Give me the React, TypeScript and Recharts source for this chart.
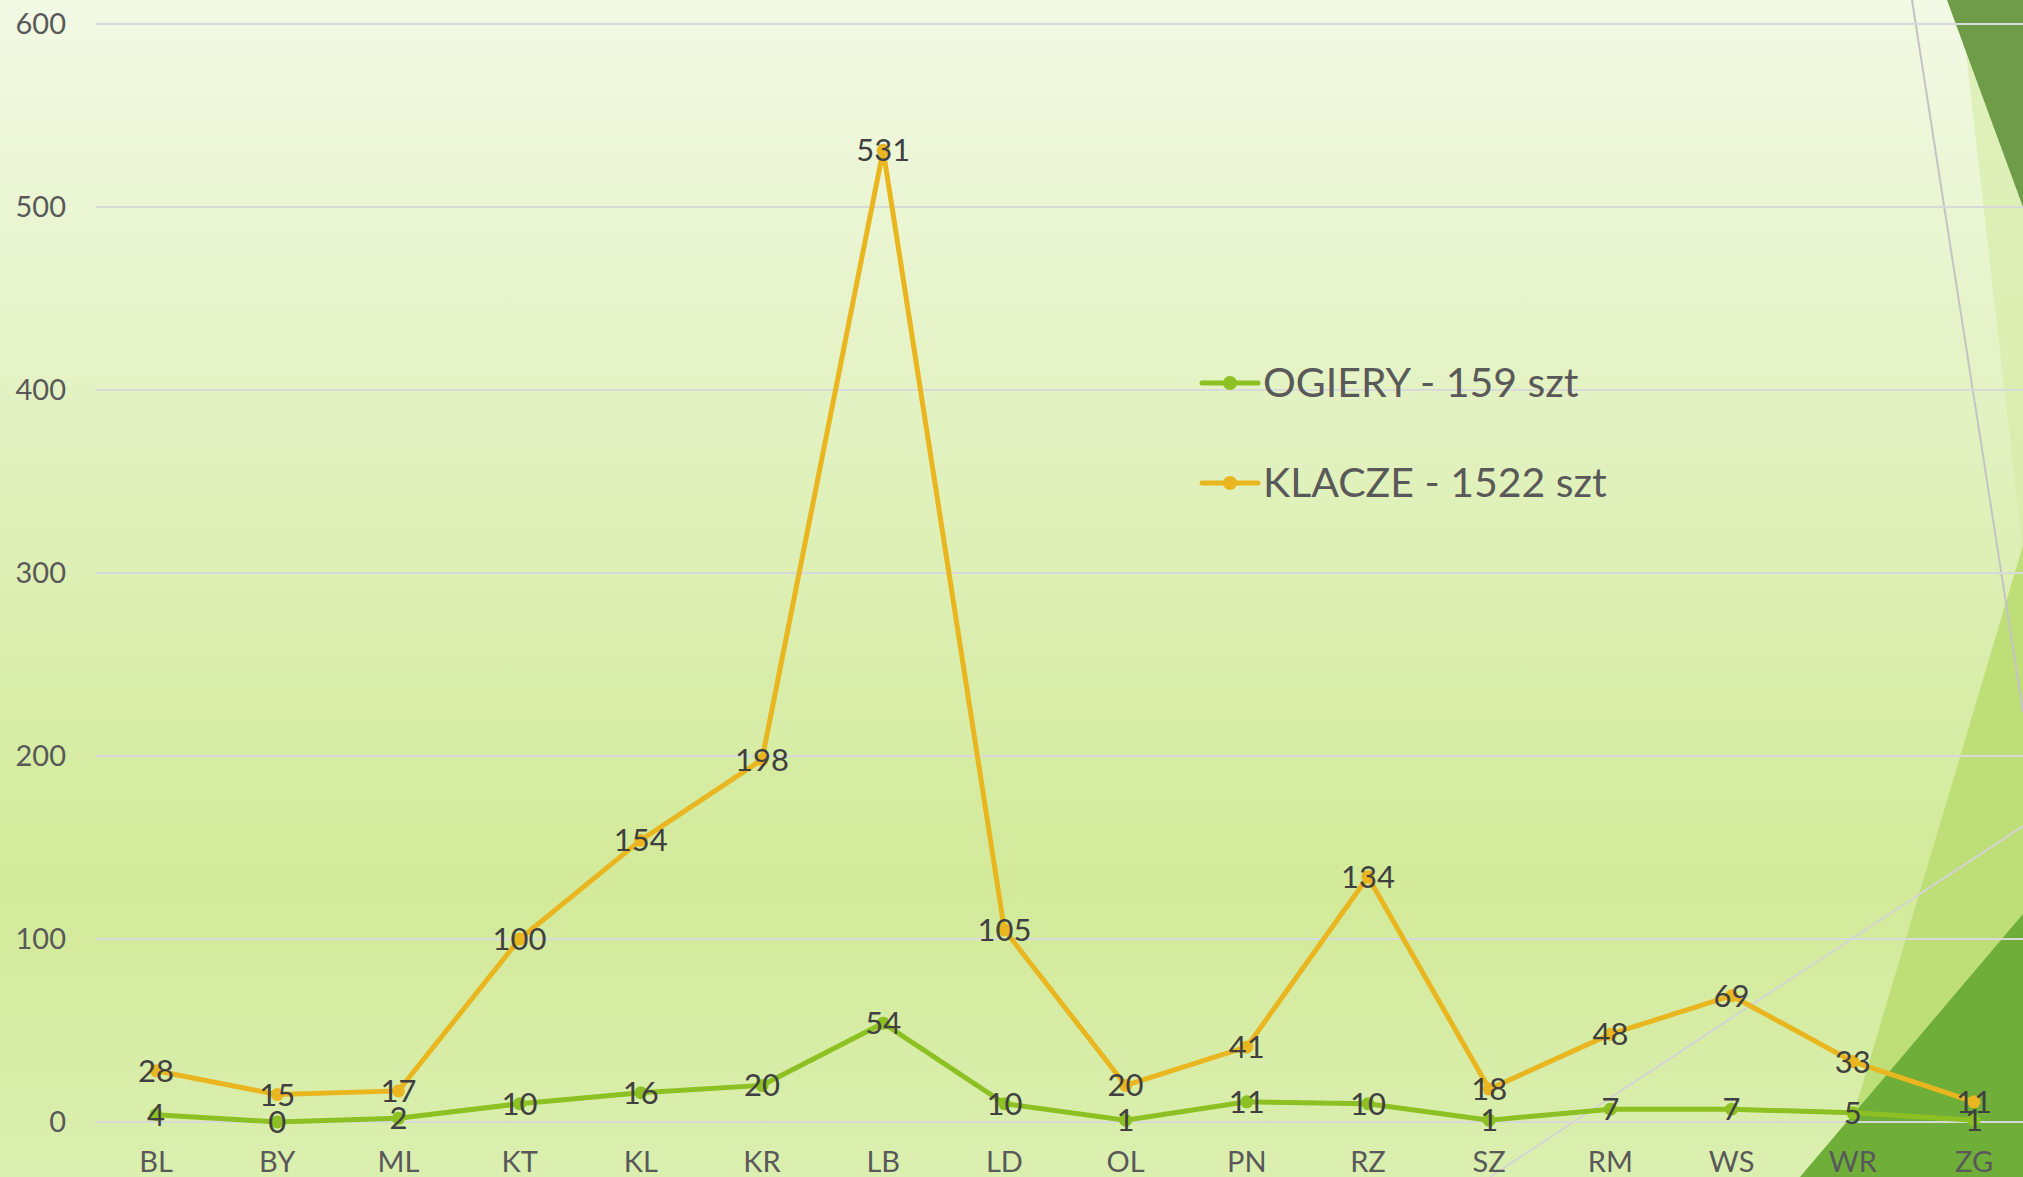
import React from 'react';
import { LineChart, Line, XAxis, YAxis, CartesianGrid, Legend, LabelList } from 'recharts';

const regions = ['BL', 'BY', 'ML', 'KT', 'KL', 'KR', 'LB', 'LD', 'OL', 'PN', 'RZ', 'SZ', 'RM', 'WS', 'WR', 'ZG'];
const ogiery = [4, 0, 2, 10, 16, 20, 54, 10, 1, 11, 10, 1, 7, 7, 5, 1];
const klacze = [28, 15, 17, 100, 154, 198, 531, 105, 20, 41, 134, 18, 48, 69, 33, 11];
const yTicks = [0, 100, 200, 300, 400, 500, 600];
const seriesOrder = ['ogiery', 'klacze'];

const FONT = 'Lato, "Open Sans", sans-serif';
const GREEN = '#8DC022';
const YELLOW = '#E9B620';

const data = regions.map((name, i) => ({
    name,
    ogiery: ogiery[i],
    klacze: klacze[i],
}));

const ValueLabel = (props: any) => {
    const { x, y, value } = props;
    return (
        <text x={x} y={y} dy={11} textAnchor="middle" fontSize={31} fontFamily={FONT} fill="#404040">
            {value}
        </text>
    );
};

const XTick = (props: any) => {
    const { x, y, payload } = props;
    return (
        <text x={x} y={y} dy={50} textAnchor="middle" fontSize={29} fontFamily={FONT} fill="#595959">
            {payload.value}
        </text>
    );
};

const LegendBox = (props: any) => {
    const items = [...(props.payload || [])].sort(
        (a: any, b: any) => seriesOrder.indexOf(a.dataKey) - seriesOrder.indexOf(b.dataKey)
    );
    return (
        <svg width={500} height={180} style={{ display: 'block' }}>
            {items.map((item: any, i: number) => {
                const cy = 33 + i * 100;
                return (
                    <g key={item.value}>
                        <line x1={7} y1={cy} x2={63} y2={cy} stroke={item.color} strokeWidth={5} strokeLinecap="round" />
                        <circle cx={35} cy={cy} r={7} fill={item.color} />
                        <text x={68} y={cy + 14} fontSize={41} fontFamily={FONT} fill="#595959">
                            {item.value}
                        </text>
                    </g>
                );
            })}
        </svg>
    );
};

const Background = () => (
    <svg width={2023} height={1177} style={{ position: 'absolute', left: 0, top: 0 }}>
        <defs>
            <linearGradient id="bg" x1="0" y1="0" x2="0" y2="1">
                <stop offset="0" stopColor="#F2F9E5" />
                <stop offset="0.75" stopColor="#D2EA99" />
                <stop offset="1" stopColor="#DBEFB0" />
            </linearGradient>
        </defs>
        <rect x={0} y={0} width={2023} height={1177} fill="url(#bg)" />
        <polygon points="1960,0 2023,0 2023,553" fill="#D5EBA4" opacity={0.6} />
        <polygon points="2023,545 2023,1177 1835,1177" fill="#BEDF78" />
        <polygon points="1947,0 2023,0 2023,207" fill="#6E9C48" />
        <polygon points="1800,1177 2023,914 2023,1177" fill="#6EAE39" />
        <line x1={1912} y1={0} x2={2023} y2={712} stroke="#C4C4C4" strokeWidth={2} />
        <line x1={1490} y1={1177} x2={2023} y2={826} stroke="#D4D4D4" strokeWidth={2} />
    </svg>
);

const App: React.FC = () => {
    return (
        <div style={{ position: 'absolute', left: 0, top: 0, width: 2023, height: 1177, overflow: 'hidden' }}>
            <Background />
            <div style={{ position: 'absolute', left: 0, top: 0 }}>
                <LineChart width={2060} height={1177} data={data} margin={{ top: 24, right: 26, bottom: 0, left: 0 }}>
                    <CartesianGrid vertical={false} stroke="#D9D9D9" strokeWidth={2} />
                    <XAxis
                        dataKey="name"
                        height={55}
                        axisLine={false}
                        tickLine={false}
                        tickSize={0}
                        tickMargin={0}
                        padding={{ left: 60, right: 60 }}
                        interval={0}
                        tick={<XTick />}
                    />
                    <YAxis
                        width={96}
                        domain={[0, 600]}
                        ticks={yTicks}
                        axisLine={false}
                        tickLine={false}
                        tickSize={0}
                        tickMargin={30}
                        tick={{ fontSize: 29, fontFamily: FONT, fill: '#595959' }}
                    />
                    <Legend
                        layout="vertical"
                        align="center"
                        verticalAlign="middle"
                        content={<LegendBox />}
                        wrapperStyle={{ position: 'absolute', left: 1195, top: 350, width: 500, height: 180 }}
                    />
                    <Line
                        type="linear"
                        dataKey="ogiery"
                        name="OGIERY - 159 szt"
                        stroke={GREEN}
                        strokeWidth={5}
                        dot={{ r: 6.5, fill: GREEN, stroke: GREEN, strokeWidth: 0 }}
                        isAnimationActive={false}
                    >
                        <LabelList dataKey="ogiery" content={<ValueLabel />} />
                    </Line>
                    <Line
                        type="linear"
                        dataKey="klacze"
                        name="KLACZE - 1522 szt"
                        stroke={YELLOW}
                        strokeWidth={5}
                        dot={{ r: 6.5, fill: YELLOW, stroke: YELLOW, strokeWidth: 0 }}
                        isAnimationActive={false}
                    >
                        <LabelList dataKey="klacze" content={<ValueLabel />} />
                    </Line>
                </LineChart>
            </div>
        </div>
    );
};

export default App;
